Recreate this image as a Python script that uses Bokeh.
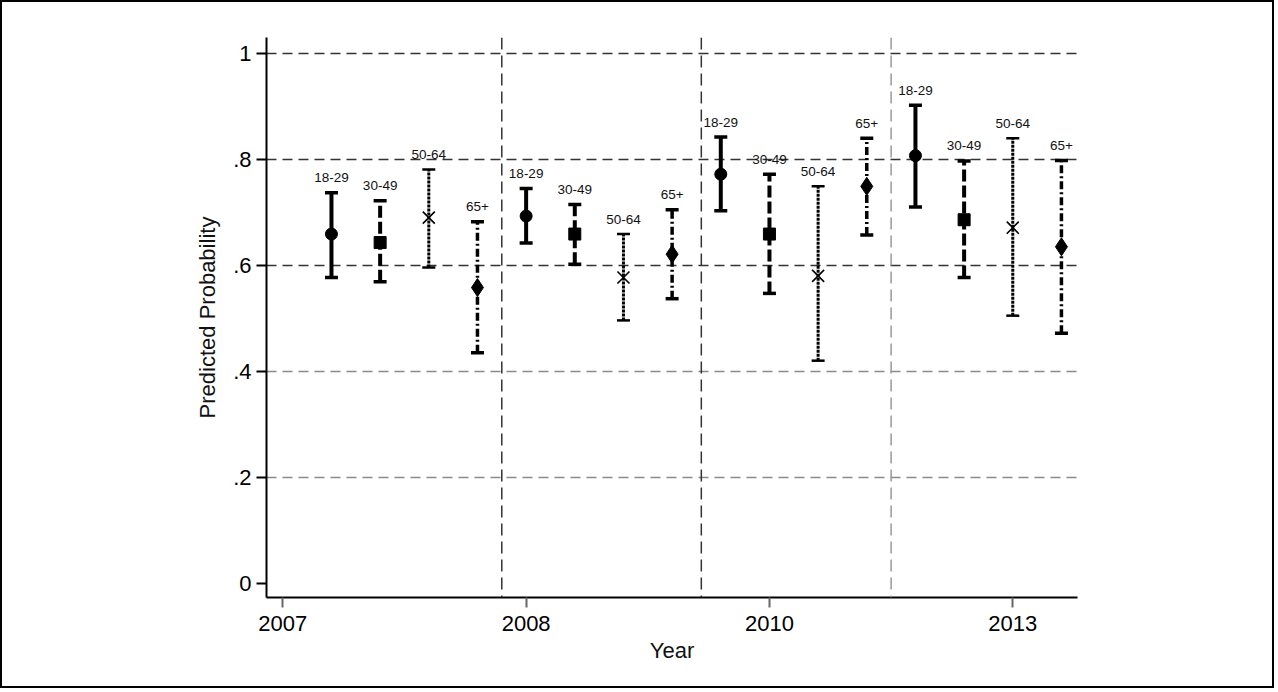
from bokeh.plotting import figure
from bokeh.models import ColumnDataSource, Whisker, TeeHead, FixedTicker, Span, Grid, Range1d
from bokeh.embed import file_html
from bokeh.resources import INLINE
from bokeh.core.properties import value

# ---- data ----
years = ["2007", "2008", "2010", "2013"]
year_tick_pos = [0, 5, 10, 15]
groups = ["18-29", "30-49", "50-64", "65+"]

est_18_29 = [0.660, 0.694, 0.773, 0.808]
est_30_49 = [0.644, 0.660, 0.660, 0.687]
est_50_64 = [0.691, 0.578, 0.581, 0.672]
est_65 = [0.559, 0.622, 0.750, 0.636]

lo_18_29 = [0.578, 0.643, 0.704, 0.711]
lo_30_49 = [0.570, 0.603, 0.548, 0.578]
lo_50_64 = [0.597, 0.497, 0.421, 0.506]
lo_65 = [0.436, 0.538, 0.658, 0.473]

hi_18_29 = [0.738, 0.746, 0.843, 0.903]
hi_30_49 = [0.723, 0.716, 0.773, 0.798]
hi_50_64 = [0.782, 0.660, 0.750, 0.841]
hi_65 = [0.683, 0.706, 0.841, 0.799]

y_ticks = [0, 0.2, 0.4, 0.6, 0.8, 1.0]
y_tick_labels = ["0", ".2", ".4", ".6", ".8", "1"]
separators = [4.5, 8.6, 12.5]

FONT = "Liberation Sans"

p = figure(width=1274, height=688, output_backend="svg", toolbar_location=None,
           x_range=Range1d(-0.335, 16.33), y_range=Range1d(-0.026, 1.031),
           min_border_left=264, min_border_right=199, min_border_top=35, min_border_bottom=93)
p.styles = {"border": "2px solid black"}
p.outline_line_color = None
p.background_fill_color = "white"
p.border_fill_color = "white"

# grids
p.xgrid.visible = False
p.ygrid.ticker = FixedTicker(ticks=[0.6, 0.8, 1.0])
p.ygrid.grid_line_color = "#333333"
p.ygrid.grid_line_dash = "10 6"
p.ygrid.grid_line_width = 1.5
g2 = Grid(dimension=1, ticker=FixedTicker(ticks=[0.2, 0.4]), grid_line_color="#8a8a8a",
          grid_line_dash="10 6", grid_line_width=1.5)
p.add_layout(g2)

sep_colors = ["#333333", "#333333", "#999999"]
for loc, c in zip(separators, sep_colors):
    p.add_layout(Span(location=loc, dimension="height", line_color=c, line_dash="12 6", line_width=1.5))

# axes
p.yaxis.ticker = FixedTicker(ticks=y_ticks)
p.yaxis.major_label_overrides = {float(t): l for t, l in zip(y_ticks, y_tick_labels)}
p.xaxis.ticker = FixedTicker(ticks=year_tick_pos)
p.xaxis.major_label_overrides = {float(t): l for t, l in zip(year_tick_pos, years)}
for ax in (p.xaxis, p.yaxis):
    ax.axis_line_width = 2
    ax.axis_line_color = "black"
    ax.major_tick_in = 0
    ax.major_tick_out = 10
    ax.major_tick_line_width = 2
    ax.minor_tick_line_color = None
    ax.major_label_text_font = FONT
    ax.major_label_text_font_size = "22px"
    ax.major_label_text_color = "black"
    ax.axis_label_text_font = FONT
    ax.axis_label_text_font_size = "22px"
    ax.axis_label_text_font_style = "normal"
    ax.axis_label_text_color = "#111111"
p.xaxis.major_tick_line_color = "#666666"
p.xaxis.major_label_standoff = 8
p.xaxis.axis_label_standoff = 4
p.yaxis.major_label_standoff = 5
p.yaxis.axis_label_standoff = 10
p.xaxis.axis_label = "Year"
p.yaxis.axis_label = "Predicted Probability"

est = [est_18_29, est_30_49, est_50_64, est_65]
lo = [lo_18_29, lo_30_49, lo_50_64, lo_65]
hi = [hi_18_29, hi_30_49, hi_50_64, hi_65]

styles = [
    dict(dash="solid", lw=4, cap_w=3.5, marker="circle", size=12, mlw=1),
    dict(dash="12 4", lw=4, cap_w=3.5, marker="square", size=12, mlw=1),
    dict(dash="3 1", lw=3, cap_w=2.5, marker="x", size=17, mlw=1.6),
    dict(dash="8 3 2 3", lw=3.5, cap_w=3.5, marker="diamond", size=18, mlw=1),
]

for g, (name, st) in enumerate(zip(groups, styles)):
    src = ColumnDataSource(dict(
        x=[4 * i + g + 1 for i in range(len(years))],
        est=est[g], lo=lo[g], hi=hi[g], lab=[name] * len(years)))
    w = Whisker(base="x", upper="hi", lower="lo", source=src, dimension="height",
                line_color="black", line_width=st["lw"], line_dash=st["dash"],
                upper_head=TeeHead(size=13, line_width=st["cap_w"], line_color="black"),
                lower_head=TeeHead(size=13, line_width=st["cap_w"], line_color="black"))
    p.add_layout(w)
    p.scatter("x", "est", source=src, marker=st["marker"], size=st["size"],
              fill_color="black", line_color="black", line_width=st["mlw"])
    p.text("x", "hi", text="lab", source=src, text_font=value(FONT), text_font_size="13.5px",
           text_align="center", text_baseline="middle", y_offset=-15, text_color="#111111")

open("out.html", "w").write(file_html(p, INLINE))
